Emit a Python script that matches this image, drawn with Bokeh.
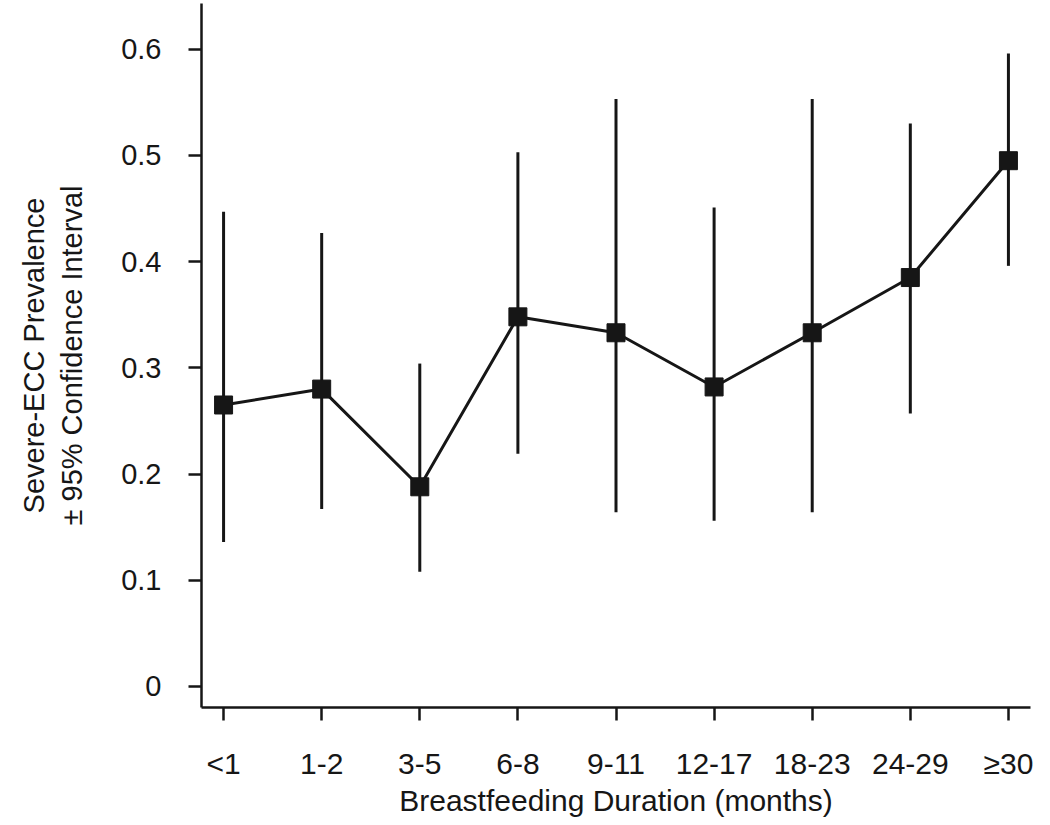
import numpy as np
from bokeh.plotting import figure
from bokeh.models import Range1d, FixedTicker
from bokeh.embed import file_html
from bokeh.resources import INLINE

# Data
categories = ["<1", "1-2", "3-5", "6-8", "9-11", "12-17", "18-23", "24-29", "\u226530"]
prevalence = [0.265, 0.280, 0.188, 0.348, 0.333, 0.282, 0.333, 0.385, 0.495]
ci_lower = [0.136, 0.167, 0.108, 0.219, 0.164, 0.156, 0.164, 0.257, 0.396]
ci_upper = [0.447, 0.427, 0.304, 0.503, 0.553, 0.451, 0.553, 0.530, 0.596]
y_ticks = [0, 0.1, 0.2, 0.3, 0.4, 0.5, 0.6]
y_tick_labels = ["0", "0.1", "0.2", "0.3", "0.4", "0.5", "0.6"]

x = list(range(len(categories)))

FONT = "Liberation Sans"
INK = "#161616"

p = figure(
    frame_width=829, frame_height=704,
    x_range=Range1d(-0.225, 8.225), y_range=Range1d(-0.0198, 0.643),
    output_backend="svg", toolbar_location=None,
    min_border_left=201, min_border_right=10, min_border_top=3, min_border_bottom=0,
    background_fill_color="white", border_fill_color="white",
)
p.outline_line_color = None
p.xgrid.visible = False
p.ygrid.visible = False

# error bars
p.segment(x0=x, y0=ci_lower, x1=x, y1=ci_upper, line_color=INK, line_width=3)
# connecting line
p.line(x=x, y=prevalence, line_color=INK, line_width=3)
# markers
p.scatter(x=x, y=prevalence, marker="square", size=18, fill_color=INK, line_color=INK)

# axes
for ax in (p.xaxis[0], p.yaxis[0]):
    ax.axis_line_width = 2.5
    ax.axis_line_color = INK
    ax.major_tick_line_width = 2.5
    ax.major_tick_line_color = INK
    ax.major_tick_out = 13
    ax.major_tick_in = 0
    ax.minor_tick_line_color = None
    ax.major_label_text_font = FONT
    ax.major_label_text_color = INK
    ax.axis_label_text_font = FONT
    ax.axis_label_text_font_style = "normal"
    ax.axis_label_text_color = INK

p.xaxis.ticker = FixedTicker(ticks=x)
p.xaxis.major_label_overrides = {i: c for i, c in zip(x, categories)}
p.xaxis.major_label_text_font_size = "30px"
p.xaxis.major_label_standoff = 26
p.xaxis.axis_label = "Breastfeeding Duration (months)"
p.xaxis.axis_label_text_font_size = "30px"
p.xaxis.axis_label_standoff = 1

p.yaxis.ticker = FixedTicker(ticks=y_ticks)
p.yaxis.major_label_overrides = {t: l for t, l in zip(y_ticks, y_tick_labels)}
p.yaxis.major_label_text_font_size = "29px"
p.yaxis.major_label_standoff = 27
p.yaxis.axis_label = "Severe-ECC Prevalence\n\u00b1 95% Confidence Interval"
p.yaxis.axis_label_text_font_size = "29px"
p.yaxis.axis_label_standoff = 30

open("out.html", "w").write(file_html(p, INLINE))
